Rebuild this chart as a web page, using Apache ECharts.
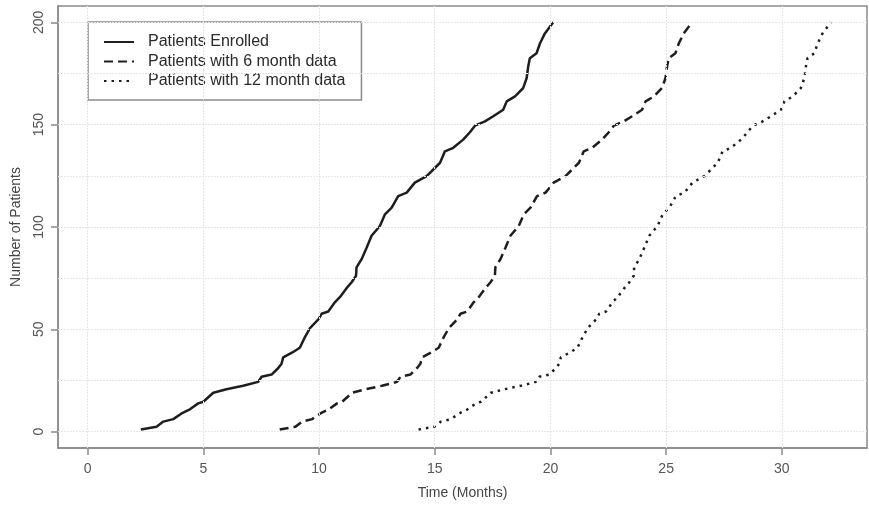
<!DOCTYPE html>
<html>
<head>
<meta charset="utf-8">
<script src="https://cdn.jsdelivr.net/npm/echarts@6/dist/echarts.min.js"></script>
<style>
html,body{margin:0;padding:0;background:#fff;}
#chart{width:869px;height:505px;}
</style>
</head>
<body>
<div id="chart"></div>
<script>
// Cumulative patient counts
var patientCounts = [1,2.4,4.9,6.1,8.9,10.9,13.8,14.6,19,20.7,22.4,24.3,26.8,27.9,31.1,33.2,36.3,38.7,41,46.2,50.6,54.8,57.6,58.7,63.3,65.7,70.1,73,76.2,80.3,84.3,90,95.7,100.5,106.2,109.5,115.1,116.8,121.7,124.9,128.1,131.4,137,138.7,142.7,146.3,149.5,151.6,154.1,157.3,161.4,163.8,167.9,172.7,178.4,182.5,184.9,189.8,194.6,200];
// Time (months) at which each count is reached
var enrolledTimes = [2.30,2.98,3.27,3.70,4.06,4.42,4.78,5.00,5.43,6.00,6.72,7.37,7.52,7.95,8.24,8.38,8.45,8.85,9.17,9.39,9.61,9.97,10.11,10.40,10.69,10.90,11.19,11.41,11.60,11.62,11.84,12.06,12.27,12.63,12.85,13.14,13.42,13.79,14.14,14.65,14.94,15.23,15.44,15.80,16.23,16.52,16.74,17.17,17.53,17.96,18.11,18.47,18.82,18.97,19.04,19.11,19.40,19.55,19.76,20.12];
var sixMonthTimes = [8.30,8.98,9.27,9.70,10.06,10.42,10.78,11.00,11.43,12.00,12.72,13.37,13.52,13.95,14.24,14.38,14.45,14.85,15.17,15.39,15.61,15.97,16.11,16.40,16.69,16.90,17.19,17.41,17.60,17.62,17.84,18.06,18.27,18.63,18.85,19.14,19.42,19.79,20.14,20.65,20.94,21.23,21.44,21.80,22.23,22.52,22.74,23.17,23.53,23.96,24.11,24.47,24.82,24.97,25.04,25.11,25.40,25.55,25.76,26.12];
var twelveMonthTimes = [14.30,14.98,15.27,15.70,16.06,16.42,16.78,17.00,17.43,18.00,18.72,19.37,19.52,19.95,20.24,20.38,20.45,20.85,21.17,21.39,21.61,21.97,22.11,22.40,22.69,22.90,23.19,23.41,23.60,23.62,23.84,24.06,24.27,24.63,24.85,25.14,25.42,25.79,26.14,26.65,26.94,27.23,27.44,27.80,28.23,28.52,28.74,29.17,29.53,29.96,30.11,30.47,30.82,30.97,31.04,31.11,31.40,31.55,31.76,32.12];
var seriesNames = ['Patients Enrolled','Patients with 6 month data','Patients with 12 month data'];
var xTicks = [0,5,10,15,20,25,30];
var yTicks = [0,50,100,150,200];
var yGrid = [0,25,50,75,100,125,150,175,200];

var FONT = 'Liberation Sans, Arial, sans-serif';
function pairs(xs){ return xs.map(function(t,i){ return [t, patientCounts[i]]; }); }

var gridMarks = xTicks.map(function(v){ return {xAxis: v}; })
  .concat(yGrid.map(function(v){ return {yAxis: v}; }));

var chart = echarts.init(document.getElementById('chart'), null, {renderer:'canvas'});
chart.setOption({
  animation: false,
  backgroundColor: '#fff',
  textStyle: {fontFamily: FONT},
  grid: {left: 58, top: 6, width: 809, height: 444, show: true, borderColor: '#8a8a8a', borderWidth: 1.5, containLabel: false},
  legend: {
    left: 88, top: 22, orient: 'vertical',
    backgroundColor: '#fff', borderColor: '#8a8a8a', borderWidth: 1.5,
    padding: [12, 16, 11, 15],
    itemWidth: 30, itemHeight: 14, itemGap: 3.5,
    itemStyle: {color: 'rgba(0,0,0,0)', borderColor: 'rgba(0,0,0,0)', borderWidth: 0, opacity: 0},
    textStyle: {fontFamily: FONT, fontSize: 16, color: '#2a2a2a', padding: [0,0,0,9]},
    data: seriesNames
  },
  xAxis: {
    type: 'value', min: -1.28, max: 33.68,
    name: 'Time (Months)', nameLocation: 'middle', nameGap: 38,
    nameTextStyle: {fontFamily: FONT, fontSize: 14, color: '#444'},
    axisLine: {show: true, onZero: false, lineStyle: {color: '#8a8a8a', width: 1.5}},
    axisTick: {show: true, length: 7, customValues: xTicks, lineStyle: {color: '#8a8a8a', width: 1.5}},
    axisLabel: {customValues: xTicks, margin: 14, fontSize: 14, color: '#555', fontFamily: FONT},
    splitLine: {show: false}
  },
  yAxis: {
    type: 'value', min: -8, max: 208,
    name: 'Number of Patients', nameLocation: 'middle', nameGap: 35, nameRotate: 90,
    nameTextStyle: {fontFamily: FONT, fontSize: 14, color: '#444'},
    axisLine: {show: true, onZero: false, lineStyle: {color: '#8a8a8a', width: 1.5}},
    axisTick: {show: true, length: 7, customValues: yTicks, lineStyle: {color: '#8a8a8a', width: 1.5}},
    axisLabel: {customValues: yTicks, rotate: 90, margin: 12, fontSize: 14, color: '#555', fontFamily: FONT},
    splitLine: {show: false}
  },
  series: [
    {
      name: '__grid', type: 'line', data: [], silent: true,
      markLine: {silent: true, symbol: 'none', animation: false, label: {show: false},
        lineStyle: {color: '#e6e6e6', width: 1, type: [2, 1]}, data: gridMarks}
    },
    {
      name: seriesNames[0], type: 'line', data: pairs(enrolledTimes), showSymbol: false, symbol: 'none',
      lineStyle: {color: '#1e1e1e', width: 2.5, type: 'solid'}, itemStyle: {color: '#1e1e1e'}, z: 3
    },
    {
      name: seriesNames[1], type: 'line', data: pairs(sixMonthTimes), showSymbol: false, symbol: 'none',
      lineStyle: {color: '#1e1e1e', width: 2.5, type: [9, 5]}, itemStyle: {color: '#1e1e1e'}, z: 3
    },
    {
      name: seriesNames[2], type: 'line', data: pairs(twelveMonthTimes), showSymbol: false, symbol: 'none',
      lineStyle: {color: '#1e1e1e', width: 2.5, type: [2.5, 5]}, itemStyle: {color: '#1e1e1e'}, z: 3
    }
  ]
});
</script>
</body>
</html>
